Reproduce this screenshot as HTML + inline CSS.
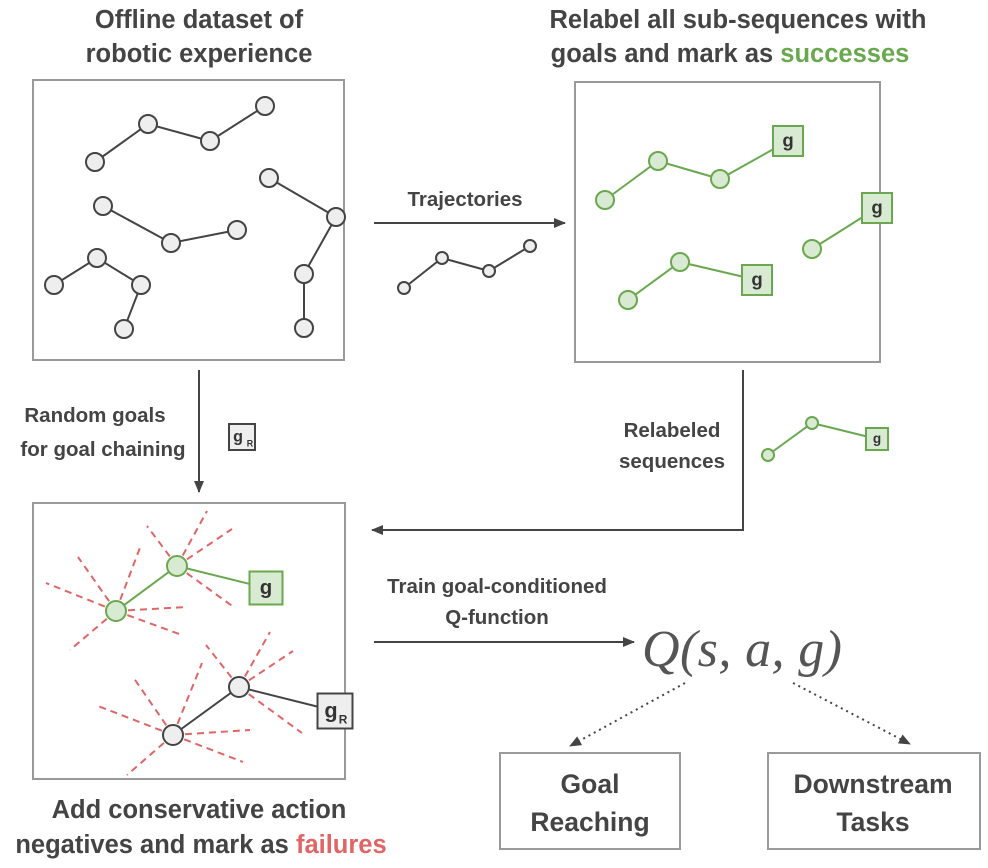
<!DOCTYPE html>
<html><head><meta charset="utf-8"><style>
html,body{margin:0;padding:0;background:#fff;}
svg{display:block;font-family:"Liberation Sans",sans-serif;}
.t{font-weight:bold;fill:#444;font-size:25.5px;text-anchor:middle;}
.b{font-weight:bold;fill:#444;font-size:26.5px;text-anchor:middle;}
.s{font-weight:bold;fill:#444;font-size:20.5px;text-anchor:middle;}
</style></head><body>
<svg width="988" height="868" viewBox="0 0 988 868">
<defs>
<marker id="ah" markerWidth="12" markerHeight="10" refX="11" refY="5" orient="auto" markerUnits="userSpaceOnUse"><path d="M0,0 L12,5 L0,10 z" fill="#444"/></marker>
</defs>
<text class="t"><tspan x="199" y="28">Offline dataset of</tspan><tspan x="199" y="62">robotic experience</tspan></text>
<text class="t"><tspan x="738" y="28">Relabel all sub-sequences with</tspan><tspan x="730" y="62">goals and mark as <tspan fill="#6aa84f">successes</tspan></tspan></text>
<text class="t"><tspan x="199" y="818">Add conservative action</tspan><tspan x="201" y="853">negatives and mark as <tspan fill="#e06666">failures</tspan></tspan></text>

<rect x="33" y="80" width="311" height="280" fill="none" stroke="#999" stroke-width="2"/>
<rect x="575" y="82" width="305" height="280" fill="none" stroke="#999" stroke-width="2"/>
<rect x="33" y="503" width="312" height="276" fill="none" stroke="#999" stroke-width="2"/>
<rect x="500" y="753" width="180" height="96" fill="none" stroke="#999" stroke-width="2"/>
<rect x="768" y="753" width="212" height="96" fill="none" stroke="#999" stroke-width="2"/>
<text class="b"><tspan x="590" y="793">Goal</tspan><tspan x="590" y="831">Reaching</tspan></text>
<text class="b"><tspan x="873" y="793">Downstream</tspan><tspan x="873" y="831">Tasks</tspan></text>

<g id="g1"></g>
<g id="g2"></g>
<g id="g3"></g>

<g stroke="#444" stroke-width="2" fill="none">
<line x1="374" y1="223" x2="565" y2="223" marker-end="url(#ah)"/>
<line x1="199" y1="370" x2="199" y2="492" marker-end="url(#ah)"/>
<polyline points="743,370 743,530 372,530" marker-end="url(#ah)"/>
<line x1="374" y1="642" x2="634" y2="642" marker-end="url(#ah)"/>
<line x1="685" y1="683" x2="570" y2="746" stroke-dasharray="2,4" marker-end="url(#ah)"/>
<line x1="793" y1="683" x2="910" y2="744" stroke-dasharray="2,4" marker-end="url(#ah)"/>
</g>
<text class="s" x="465" y="206">Trajectories</text>
<text class="s"><tspan x="95" y="422">Random goals</tspan><tspan x="103" y="456">for goal chaining</tspan></text>
<text class="s"><tspan x="672" y="437">Relabeled</tspan><tspan x="672" y="468">sequences</tspan></text>
<text class="s"><tspan x="497" y="593">Train goal-conditioned</tspan><tspan x="497" y="624">Q-function</tspan></text>
<text x="742" y="666" text-anchor="middle" font-family="'Liberation Serif',serif" font-style="italic" font-size="52" fill="#555" textLength="200">Q(s, a, g)</text>
<g id="gr"></g>
</svg>
<script>
const NS="http://www.w3.org/2000/svg";
function mk(p,tag,a){const e=document.createElementNS(NS,tag);for(const k in a)e.setAttribute(k,a[k]);p.appendChild(e);return e;}
const GREY={s:"#444",f:"#eee"},GREEN={s:"#6aa84f",f:"#d9ead3"};
function traj(p,pts,c,r){
  mk(p,'polyline',{points:pts.map(q=>q.join(',')).join(' '),fill:'none',stroke:c.s,'stroke-width':2});
  pts.forEach(q=>{const e=mk(p,'circle',{cx:q[0],cy:q[1],r:r,fill:c.f,stroke:c.s,'stroke-width':2});
  
  });
}
function gbox(p,cx,cy,sz,c,sub){
  const e=mk(p,'rect',{x:cx-sz/2,y:cy-sz/2,width:sz,height:sz,fill:c.f,stroke:c.s,'stroke-width':2});
  
  
  const t=mk(p,'text',{x:sub?cx-4:cx,y:cy+sz*0.18,'text-anchor':'middle','font-weight':'bold','font-size':sz*0.62,fill:'#333'});
  t.textContent='g';
  if(sub){const s=mk(p,'text',{x:cx+8,y:cy+sz*0.36,'text-anchor':'middle','font-weight':'bold','font-size':sz*0.34,fill:'#333'});s.textContent='R';}
}
const g1=document.getElementById('g1');
[[[95,162],[148,124],[210,141],[265,106]],[[103,206],[171,243],[237,230]],[[54,285],[97,258],[141,285],[124,329]],[[269,178],[336,217],[304,274],[304,328]]].forEach(t=>traj(g1,t,GREY,9));
traj(g1,[[404,288],[442,258],[489,271],[530,246]],GREY,6);
const g2=document.getElementById('g2');
traj(g2,[[605,200],[658,161],[720,179],[788,141]],GREEN,9);gbox(g2,788,141,30,GREEN);
traj(g2,[[628,300],[680,262],[757,280]],GREEN,9);gbox(g2,757,280,30,GREEN);
traj(g2,[[812,249],[877,208]],GREEN,9);gbox(g2,877,208,30,GREEN);
traj(g2,[[768,455],[812,423],[877,439]],GREEN,6);gbox(g2,877,439,22,GREEN);
const g3=document.getElementById('g3');
const dashes=[[116,611,46,583],[116,611,78,557],[116,611,141,545],[116,611,187,607],[116,611,182,635],[116,611,70,650],
[177,566,147,526],[177,566,207,511],[177,566,232,529],[177,566,235,608],
[173,735,98,706],[173,735,133,677],[173,735,202,663],[173,735,250,730],[173,735,243,762],[173,735,127,775],
[239,687,206,645],[239,687,270,632],[239,687,293,651],[239,687,302,733]];
dashes.forEach(d=>{const e=mk(g3,'line',{x1:d[0],y1:d[1],x2:d[2],y2:d[3],stroke:'#e06666','stroke-width':2,'stroke-dasharray':'7,5'});

});
traj(g3,[[116,611],[177,566],[266,588]],GREEN,10);gbox(g3,266,588,33,GREEN);
traj(g3,[[173,735],[239,687],[335,711]],GREY,10);gbox(g3,335,711,35,GREY,true);
gbox(document.getElementById('gr'),242,437,26,GREY,true);
</script>
</body></html>
